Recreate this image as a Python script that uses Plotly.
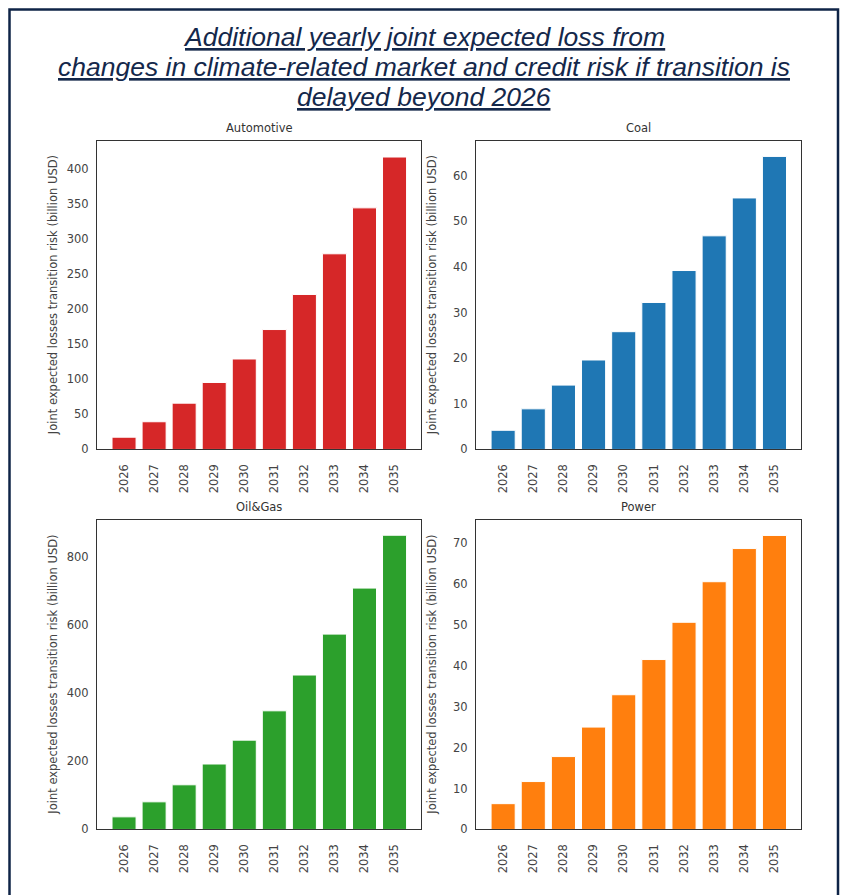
import plotly.graph_objects as go

years = ["2026", "2027", "2028", "2029", "2030", "2031", "2032", "2033", "2034", "2035"]

automotive = [17.5, 39.5, 66, 95.5, 129, 171, 221, 279, 344.5, 417]
coal = [4.2, 8.9, 14.1, 19.6, 25.8, 32.2, 39.2, 46.8, 55.1, 64.2]
oil_gas = [37, 81, 131, 192, 262, 348, 453, 573, 708, 863]
power = [6.3, 11.7, 17.8, 25.0, 32.9, 41.5, 50.6, 60.5, 68.6, 71.8]

sectors = ["Automotive", "Coal", "Oil&Gas", "Power"]
series = [automotive, coal, oil_gas, power]
colors = ["#d62728", "#1f77b4", "#2ca02c", "#ff7f0e"]
yranges = [[0, 440], [0, 67.6], [0, 908], [0, 75.6]]
ydticks = [50, 10, 200, 10]

title_lines = [
    "Additional yearly joint expected loss from",
    "changes in climate-related market and credit risk if transition is",
    "delayed beyond 2026",
]
ytitle = "Joint expected losses transition risk (billion USD)"

W, H = 845, 895
# pixel boxes of the four plot areas: (x0, x1, ytop, ybottom)
boxes = [(97, 421, 142, 453), (476, 801, 142, 453), (97, 421, 524, 836), (476, 801, 524, 836)]

fig = go.Figure()
font_mpl = "DejaVu Sans"
layout = dict(
    width=W, height=H,
    margin=dict(l=0, r=0, t=0, b=0),
    paper_bgcolor="white", plot_bgcolor="white",
    showlegend=False,
    bargap=0.2,
)
annotations = []
for i, (name, vals, col, yr, dt, box) in enumerate(zip(sectors, series, colors, yranges, ydticks, boxes)):
    n = "" if i == 0 else str(i + 1)
    fig.add_trace(go.Bar(
        x=years, y=vals, xaxis="x" + n, yaxis="y" + n,
        marker=dict(color=col, line=dict(color="white", width=1)),
        width=0.8,
    ))
    x0, x1, yt, yb = box
    layout["xaxis" + n] = dict(
        domain=[x0 / W, x1 / W], anchor="y" + n,
        range=[-0.9, 9.88], type="category",
        showline=True, linecolor="#333333", linewidth=1, mirror=True,
        showgrid=False, zeroline=False,
        ticks="outside", ticklen=9, tickcolor="rgba(0,0,0,0)",
        tickangle=-90,
        tickfont=dict(family=font_mpl, size=11.5, color="#444444"),
    )
    layout["yaxis" + n] = dict(
        domain=[1 - yb / H, 1 - yt / H], anchor="x" + n,
        range=yr, dtick=dt,
        showline=True, linecolor="#333333", linewidth=1, mirror=True,
        showgrid=False, zeroline=False,
        ticks="outside", ticklen=5, tickcolor="rgba(0,0,0,0)",
        tickfont=dict(family=font_mpl, size=11.5, color="#444444"),
    )
    annotations.append(dict(
        text=name, xref="paper", yref="paper",
        x=(x0 + x1) / 2 / W, y=1 - (yt - 4) / H,
        xanchor="center", yanchor="bottom", showarrow=False,
        font=dict(family=font_mpl, size=11.5, color="#333333"),
    ))
    annotations.append(dict(
        text=ytitle, xref="paper", yref="paper",
        x=(x0 - 44) / W, y=1 - (yt + yb) / 2 / H,
        xanchor="center", yanchor="middle", showarrow=False, textangle=-90,
        font=dict(family=font_mpl, size=11.5, color="#444444"),
    ))

for k, (line, yc) in enumerate(zip(title_lines, [37, 68, 98])):
    annotations.append(dict(
        text="<i><u>" + line + "</u></i>", xref="paper", yref="paper",
        x=424 / W, y=1 - yc / H, xanchor="center", yanchor="middle",
        showarrow=False,
        font=dict(family="Liberation Sans", size=26.5, color="#14284b"),
    ))

layout["annotations"] = annotations
layout["shapes"] = [dict(
    type="rect", xref="paper", yref="paper",
    x0=9.5 / W, x1=838 / W, y0=-0.05, y1=1 - 9.5 / H,
    line=dict(color="#0f2447", width=2.5),
)]
fig.update_layout(**layout)
fig.write_html(
    "out.html",
    config={"displayModeBar": False},
    post_script="document.body.style.margin='0';document.body.style.overflow='hidden';",
)
